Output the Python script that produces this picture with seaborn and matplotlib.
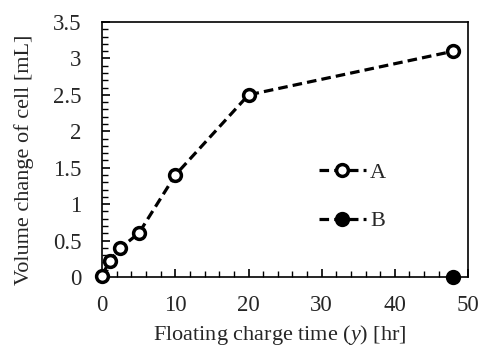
import pandas as pd
import matplotlib.pyplot as plt
import seaborn as sns
from matplotlib.ticker import MultipleLocator

# --- DATOS ---
tiempo_a = [0, 1, 2.5, 5, 10, 20, 48]
volumen_a = [0.02, 0.22, 0.4, 0.6, 1.4, 2.5, 3.1]
tiempo_b = [48]
volumen_b = [0.0]

df = pd.DataFrame({
    'tiempo': tiempo_a + tiempo_b,
    'volumen': volumen_a + volumen_b,
    'serie': ['A'] * len(tiempo_a) + ['B'] * len(tiempo_b),
})

# --- CONFIGURACIÓN ---
sns.set_style("ticks")
plt.rcParams['font.family'] = ['Liberation Serif', 'DejaVu Serif']
plt.rcParams['mathtext.fontset'] = 'custom'
plt.rcParams['mathtext.it'] = 'Liberation Serif:italic'
plt.rcParams['mathtext.rm'] = 'Liberation Serif'

fig, ax = plt.subplots(figsize=(4.82, 3.56), dpi=100)
sns.lineplot(data=df, x='tiempo', y='volumen', hue='serie', style='serie',
             palette={'A': 'black', 'B': 'black'},
             markers={'A': 'o', 'B': 'o'}, dashes={'A': (3, 1.6), 'B': (3, 1.6)},
             linewidth=2.3, ax=ax, legend=False)

for line, serie in zip(ax.lines, ['A', 'B']):
    line.set_markersize(8.5)
    line.set_markeredgewidth(2.5)
    line.set_markeredgecolor('black')
    line.set_markerfacecolor('white' if serie == 'A' else 'black')
    line.set_label(serie)
    line.set_clip_on(False)
    line.set_zorder(5)

ax.set_xlim(0, 50)
ax.set_ylim(0, 3.5)
ax.xaxis.set_major_locator(MultipleLocator(10))
ax.xaxis.set_minor_locator(MultipleLocator(2))
ax.yaxis.set_major_locator(MultipleLocator(0.5))
ax.yaxis.set_minor_locator(MultipleLocator(0.1))
ax.yaxis.set_major_formatter(plt.FuncFormatter(lambda v, p: f'{v:g}'))
ax.tick_params(which='major', direction='in', length=6, width=1.2, labelsize=16.5, color='black')
ax.tick_params(which='minor', direction='in', length=4, width=1.0, color='black')
ax.tick_params(axis='y', which='major', pad=15)
ax.tick_params(axis='x', which='major', pad=13)
for s in ax.spines.values():
    s.set_linewidth(1.2)
    s.set_color('black')

ax.set_xlabel('Floating charge time ($\\mathit{y}$) [hr]', fontsize=16, va='center')
ax.set_ylabel('Volume change of cell [mL]', fontsize=16, va='center')
ax.xaxis.set_label_coords(0.486, -0.227)
ax.yaxis.set_label_coords(-0.213, 0.459)

ax.legend(loc='center left', bbox_to_anchor=(0.593, 0.314), frameon=False, fontsize=16,
          handlelength=2.1, handletextpad=0.2, labelspacing=1.25,
          borderpad=0, borderaxespad=0)

plt.subplots_adjust(left=0.212, right=0.971, top=0.938, bottom=0.222)
plt.savefig('out.png', dpi=100)
plt.close()
